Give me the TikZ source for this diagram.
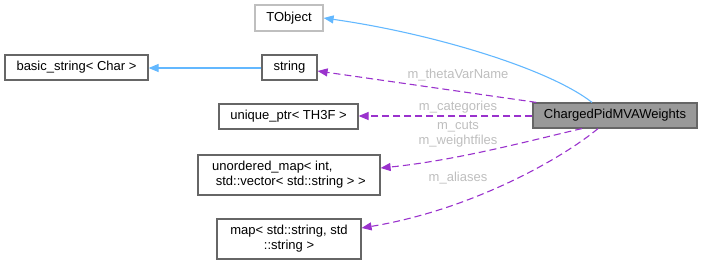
\documentclass[tikz,border=0pt]{standalone}
\usepackage{fontspec}
\setmainfont{Liberation Sans}
\usetikzlibrary{arrows.meta}
\definecolor{edgeblue}{HTML}{63B8FF}
\definecolor{edgepurple}{HTML}{9A32CD}
\definecolor{boxborder}{HTML}{666666}
\definecolor{lightborder}{HTML}{BFBFBF}
\definecolor{mainfill}{HTML}{999999}
\definecolor{labelgray}{HTML}{BEBEBE}
\tikzset{
  box/.style={draw=boxborder, line width=1.2pt, fill=white, inner sep=0pt, font=\fontsize{13}{15}\selectfont},
  lightbox/.style={box, draw=lightborder},
  mainbox/.style={box, fill=mainfill},
  inherit/.style={draw=edgeblue, line width=1.1pt, -{Triangle[length=10pt,width=8pt]}},
  member/.style={draw=edgepurple, line width=1.1pt, dash pattern=on 7pt off 4pt, -{Triangle[length=10pt,width=8pt]}},
  elabel/.style={text=labelgray, font=\fontsize{13}{15}\selectfont, inner sep=0pt, align=center},
}
\begin{document}
\begin{tikzpicture}[x=1pt,y=-1pt]
\useasboundingbox (0,0) rectangle (703,265);
\node[lightbox, minimum width=68pt, minimum height=26pt] (tobj) at (289,18) {TObject};
\node[box, minimum width=55pt, minimum height=25pt] (str) at (289.5,67.5) {string};
\node[box, minimum width=143pt, minimum height=25pt] (bstr) at (76.5,67.5) {basic\_string< Char >};
\node[box, minimum width=139pt, minimum height=25pt] (uptr) at (288.5,116.5) {unique\_ptr< TH3F >};
\node[box, minimum width=182pt, minimum height=40pt, align=left] (umap) at (289,175) {unordered\_map< int,\\\ std::vector< std::string > >};
\node[box, minimum width=144pt, minimum height=40pt, align=center] (map) at (289,239) {map< std::string, std\\::string >};
\node[mainbox, minimum width=164pt, minimum height=25pt] (main) at (615,115.5) {ChargedPidMVAWeights};

\draw[inherit] ([yshift=-0.5pt]str.west) -- ([yshift=-0.5pt]bstr.east);
\draw[inherit] ([xshift=-23pt]main.north) .. controls (548,68) and (430,33) .. (tobj.east);
\draw[member] ([xshift=4pt]main.north west) -- ([yshift=-3.5pt]str.east);
\draw[member] ([yshift=-0.5pt]main.west) -- ([yshift=-0.5pt]main.west -| uptr.east);
\draw[member] ([xshift=-33pt]main.south) .. controls (540,138) and (460,160) .. ([yshift=7pt]umap.east);
\draw[member] ([xshift=-17pt]main.south) .. controls (560,160) and (470,210) .. ([yshift=11pt]map.east);

\node[elabel] (l1) at (458,75) {m\_thetaVarName};
\node[elabel] (l2) at (458,107) {m\_categories};
\node[elabel] (l3) at (458,134.5) {m\_cuts\\m\_weightfiles};
\node[elabel] (l4) at (458,178) {m\_aliases};
\end{tikzpicture}
\end{document}
